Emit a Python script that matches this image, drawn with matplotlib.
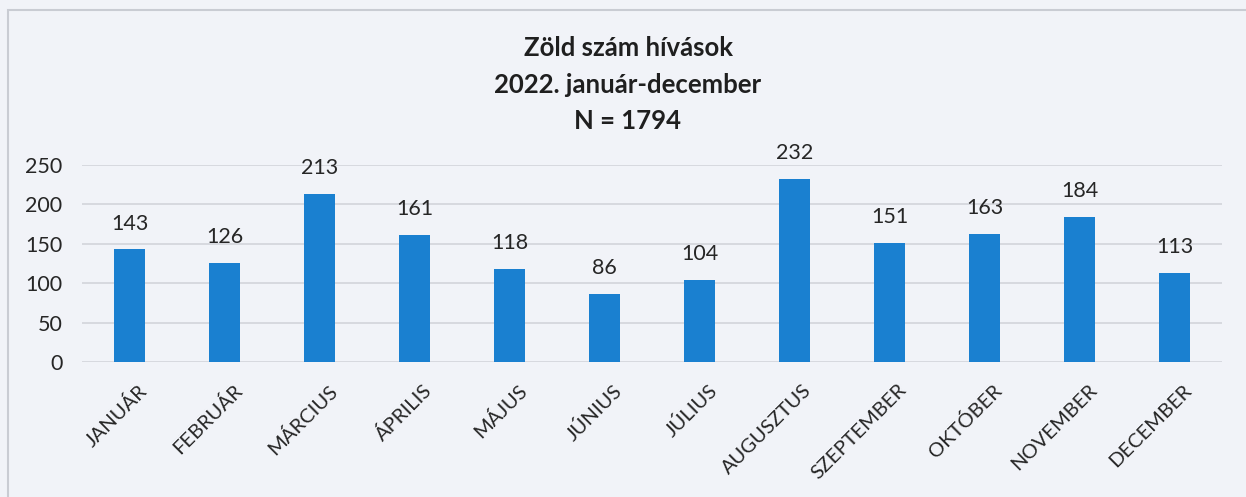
import matplotlib
matplotlib.use("Agg")
import matplotlib.pyplot as plt
from matplotlib.patches import Rectangle
from matplotlib.transforms import ScaledTranslation

months = ["JANUÁR", "FEBRUÁR", "MÁRCIUS", "ÁPRILIS", "MÁJUS", "JÚNIUS",
          "JÚLIUS", "AUGUSZTUS", "SZEPTEMBER", "OKTÓBER", "NOVEMBER", "DECEMBER"]
calls = [143, 126, 213, 161, 118, 86, 104, 232, 151, 163, 184, 113]
yticks = [0, 50, 100, 150, 200, 250]
title_lines = ["Zöld szám hívások", "2022. január-december", "N = 1794"]

plt.rcParams['font.family'] = ['Lato', 'DejaVu Sans']

bg = "#f1f3f8"
fig = plt.figure(figsize=(12.46, 4.97), dpi=100, facecolor=bg)
fig.patches.append(Rectangle((8/1246, -0.1), 1.2, 1 - 10/497 + 0.1, transform=fig.transFigure,
                             fill=False, edgecolor="#c9ccd3", linewidth=1.5))

ax = fig.add_axes([82/1246, 1 - 362/497, 1140/1246, 197/497])
ax.set_facecolor(bg)
x = range(len(months))
bars = ax.bar(x, calls, width=0.33, color="#1a80d0", zorder=3)
for xi, v in zip(x, calls):
    ax.text(xi, v + 20, str(v), ha="center", va="bottom", fontsize=15.5, color="#262626")

ax.set_xlim(-0.5, len(months) - 0.5)
ax.set_ylim(0, 250)
ax.set_yticks(yticks)
ax.set_yticklabels([str(t) for t in yticks], fontsize=15.5, color="#262626")
ax.set_xticks(list(x))
ax.set_xticklabels(months, rotation=45, ha="right", rotation_mode="anchor",
                   fontsize=14.5, color="#262626")
ax.tick_params(axis="y", length=0, pad=14)
ax.tick_params(axis="x", length=0, pad=14)
off = ScaledTranslation(6/72, 0, fig.dpi_scale_trans)
for lab in ax.get_xticklabels():
    lab.set_transform(lab.get_transform() + off)
ax.grid(axis="y", color="#d2d4da", linewidth=1.2, zorder=0)
for s in ax.spines.values():
    s.set_visible(False)

ys = [48, 85, 121]
for t, yy in zip(title_lines, ys):
    fig.text(628/1246, 1 - yy/497, t, ha="center", va="center",
             fontsize=18.5, fontweight="bold", color="#1f1f1f")

fig.savefig("out.png", dpi=100, facecolor=bg)
